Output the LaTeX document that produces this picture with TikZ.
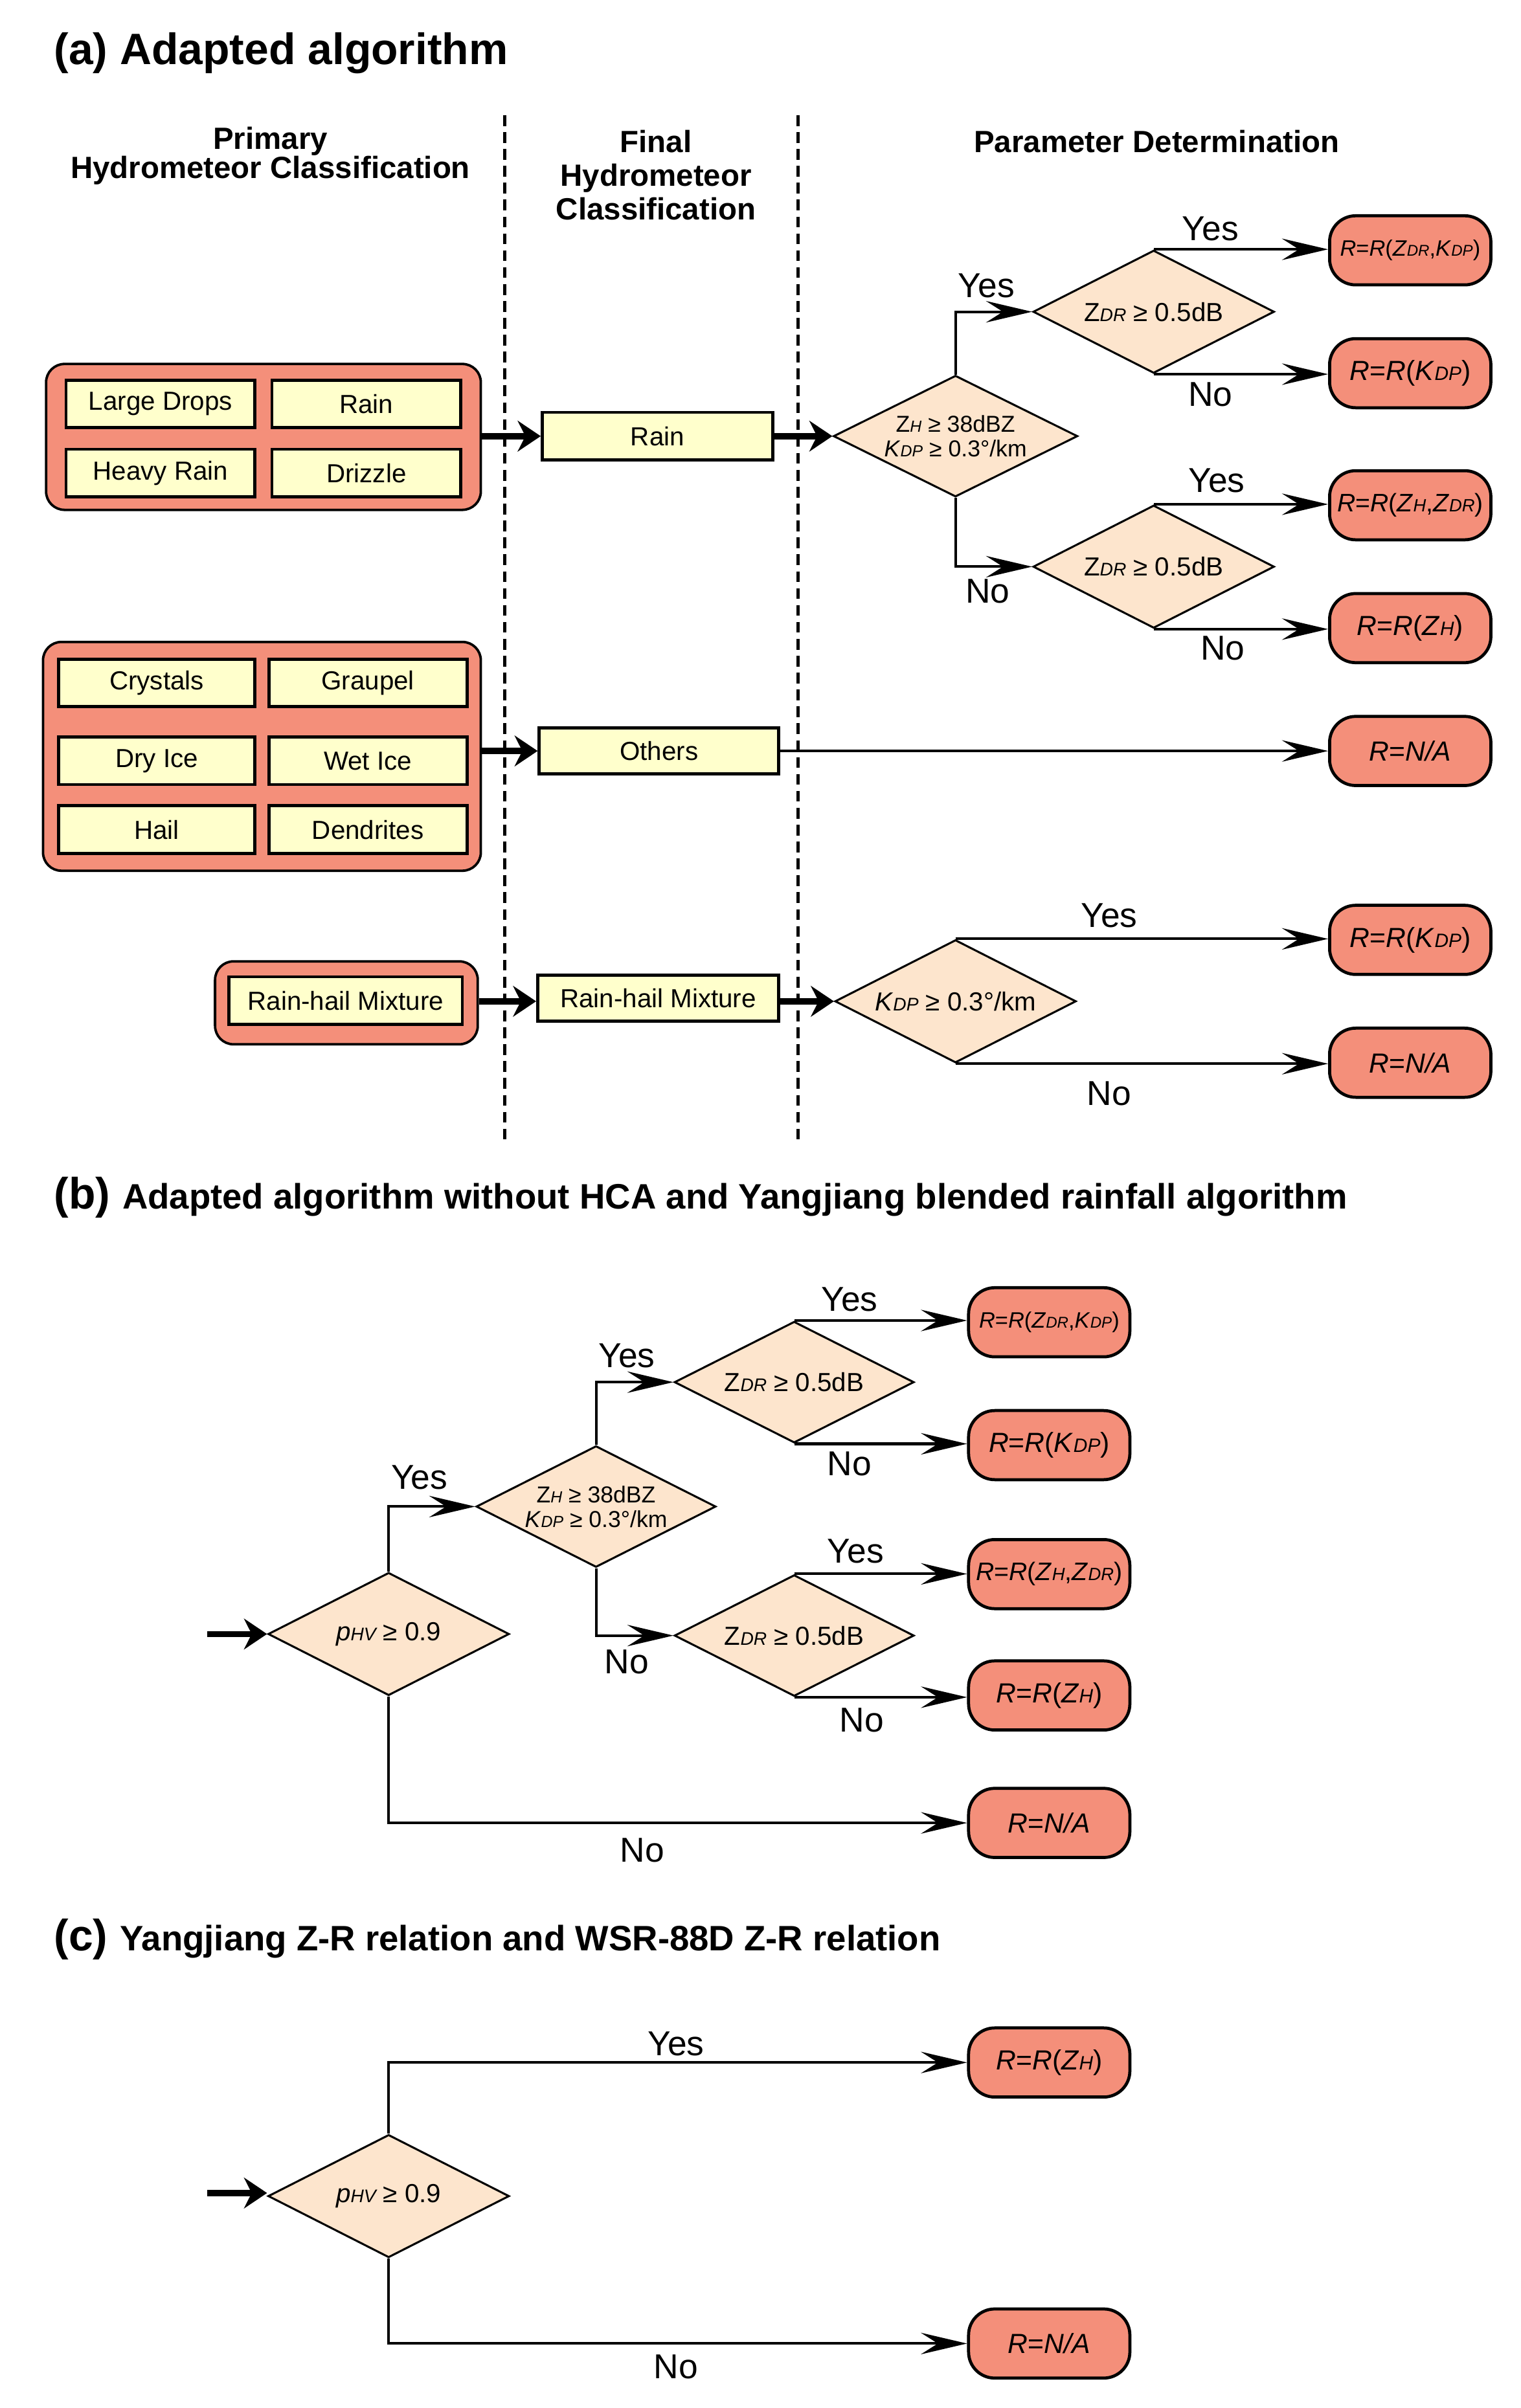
\documentclass[tikz,border=0pt]{standalone}
\usepackage{fontspec}
\setmainfont{Liberation Sans}
\usepackage{graphicx}
\usetikzlibrary{shapes.geometric,arrows.meta,calc}
\definecolor{salmon}{RGB}{244,143,122}
\definecolor{ylw}{RGB}{255,255,204}
\definecolor{peach}{RGB}{253,229,205}
\newcommand\fs[2]{\fontsize{#1}{#2}\selectfont}
\newcommand\lowsub[1]{\scalebox{0.7}{\itshape #1}}
\begin{document}
\begin{tikzpicture}[x=1pt,y=-1pt,
  grp/.style={draw, line width=1.6pt, fill=salmon, rounded corners=12pt, inner sep=0pt},
  cat/.style={draw, line width=2pt, fill=ylw, font=\fs{17}{20}, inner sep=0pt, minimum height=31pt},
  dia/.style={draw, line width=1.3pt, fill=peach, diamond, inner sep=0pt, minimum width=157pt, minimum height=80pt},
  dtxt/.style={align=center, inner sep=0pt, font=\fs{17}{19}},
  res/.style={draw, line width=2pt, fill=salmon, rounded corners=17pt, minimum width=105pt, minimum height=45pt, inner sep=0pt, font=\fs{18}{20}},
  lbl/.style={font=\fs{22.5}{25}, inner sep=0pt},
  hdr/.style={align=center, inner sep=0pt},
  arr/.style={line width=1.7pt, -{Stealth[length=30pt,width=14pt,inset=11pt]}},
  tarr/.style={line width=4pt, -{Stealth[length=15pt,width=20pt,inset=5pt]}},
  dl/.style={line width=2pt, dash pattern=on 7pt off 4pt},
  ttl/.style={anchor=base west, inner sep=0pt}
]
\useasboundingbox (0,0) rectangle (990,1568);

% ---------------- (a) ----------------
\node[ttl] (ta) at (35,42) {\fs{28.6}{32}\bfseries (a) Adapted algorithm};
\node[hdr, font=\fs{20}{19}\bfseries] (h1) at (176,101.5) {Primary\\Hydrometeor Classification};
\node[hdr, font=\fs{20}{22}\bfseries] (h2) at (427,114) {Final\\Hydrometeor\\Classification};
\node[hdr, font=\fs{20}{22}\bfseries] (h3) at (753,92) {Parameter Determination};

\coordinate (v1t) at (328.5,75); \coordinate (v1b) at (328.5,745);
\coordinate (v2t) at (519.5,75); \coordinate (v2b) at (519.5,745);
\draw[dl] (v1t) -- (v1b);
\draw[dl] (v2t) -- (v2b);

% group 1
\node[grp, minimum width=283pt, minimum height=95pt] (g1) at (171.5,284.5) {};
\node[cat, minimum width=123pt] (c11) at (104.5,263) {Large Drops};
\node[cat, minimum width=123pt] (c12) at (238.5,263) {Rain};
\node[cat, minimum width=123pt] (c13) at (104.5,308) {Heavy Rain};
\node[cat, minimum width=123pt] (c14) at (238.5,308) {Drizzle};
\node[cat, minimum width=150pt] (fRain) at (428,284) {Rain};

% group 2
\node[grp, minimum width=285pt, minimum height=149pt] (g2) at (170.5,492.5) {};
\node[cat, minimum width=128pt] (c21) at (102,444.7) {Crystals};
\node[cat, minimum width=129pt] (c22) at (239.5,444.7) {Graupel};
\node[cat, minimum width=128pt] (c23) at (102,495.4) {Dry Ice};
\node[cat, minimum width=129pt] (c24) at (239.5,495.4) {Wet Ice};
\node[cat, minimum width=128pt] (c25) at (102,540.2) {Hail};
\node[cat, minimum width=129pt] (c26) at (239.5,540.2) {Dendrites};
\node[cat, minimum width=156pt, minimum height=30pt] (fOth) at (429,489) {Others};

% group 3
\node[grp, minimum width=171pt, minimum height=54pt] (g3) at (225.5,653) {};
\node[cat, minimum width=152pt] (c31) at (225,651.5) {Rain-hail Mixture};
\node[cat, minimum width=157pt, minimum height=30pt] (fRH) at (428.5,650) {Rain-hail Mixture};

% decisions (a)
\node[dia, minimum width=159pt, minimum height=79pt] (d1) at (622,284) {};
\node[dtxt, font=\fs{15}{16}] (d1t) at (d1) {Z\lowsub{H} ≥ 38dBZ\\\textit{K}\lowsub{DP} ≥ 0.3°/km};
\node[dia] (d2) at (751,203) {};
\node[dtxt] (d2t) at (d2) {Z\lowsub{DR} ≥ 0.5dB};
\node[dia] (d3) at (751,369) {};
\node[dtxt] (d3t) at (d3) {Z\lowsub{DR} ≥ 0.5dB};
\node[dia] (d4) at (622,652) {};
\node[dtxt] (d4t) at (d4) {\textit{K}\lowsub{DP} ≥ 0.3°/km};

% results (a)
\node[res, font=\fs{14.5}{16}] (r1) at (918,163) {\textit{R}=\textit{R}(\textit{Z}\lowsub{DR},\textit{K}\lowsub{DP})};
\node[res] (r2) at (918,243) {\textit{R}=\textit{R}(\textit{K}\lowsub{DP})};
\node[res, font=\fs{16.5}{18}] (r3) at (918,329) {\textit{R}=\textit{R}(\textit{Z}\lowsub{H},\textit{Z}\lowsub{DR})};
\node[res] (r4) at (918,409) {\textit{R}=\textit{R}(\textit{Z}\lowsub{H})};
\node[res] (r5) at (918,489) {\textit{R}=\textit{N/A}};
\node[res] (r6) at (918,612) {\textit{R}=\textit{R}(\textit{K}\lowsub{DP})};
\node[res] (r7) at (918,692) {\textit{R}=\textit{N/A}};

% connectors (a)
\draw[tarr] (g1.east |- fRain.west) -- (fRain.west);
\draw[tarr] (fRain.east) -- (d1.west);
\draw[arr] (d1.north) |- (d2.west);
\draw[arr] (d1.south) |- (d3.west);
\draw[arr] (d2.north) -- (d2.north -| r1.west);
\draw[arr] (d2.south) -- (d2.south -| r2.west);
\draw[arr] (d3.north) -- (d3.north -| r3.west);
\draw[arr] (d3.south) -- (d3.south -| r4.west);
\draw[tarr] (g2.east |- fOth.west) -- (fOth.west);
\draw[arr] (fOth.east) -- (fOth.east -| r5.west);
\draw[tarr] (g3.east |- d4.west) -- (g3.east |- d4.west -| fRH.west);
\draw[tarr] (fRH.east |- d4.west) -- (d4.west);
\draw[arr] (d4.north) -- (d4.north -| r6.west);
\draw[arr] (d4.south) -- (d4.south -| r7.west);

\node[lbl] (la1) at (642,186) {Yes};
\node[lbl] (la2) at (643,385) {No};
\node[lbl] (la3) at (788,149) {Yes};
\node[lbl] (la4) at (788,257) {No};
\node[lbl] (la5) at (792,313) {Yes};
\node[lbl] (la6) at (796,422) {No};
\node[lbl] (la7) at (722,596) {Yes};
\node[lbl] (la8) at (722,712) {No};

% ---------------- (b) ----------------
\node[ttl] (tb) at (35,787) {\fs{28.6}{32}\bfseries (b) \fs{23}{26}Adapted algorithm without HCA and Yangjiang blended rainfall algorithm};

\node[dia] (pb) at (253,1064) {};
\node[dtxt, font=\fs{17}{19}] (pbt) at (pb) {\textit{p}\lowsub{HV} ≥ 0.9};
\node[dia, minimum width=156pt, minimum height=79pt] (zb) at (388,981) {};
\node[dtxt, font=\fs{15}{16}] (zbt) at (zb) {Z\lowsub{H} ≥ 38dBZ\\\textit{K}\lowsub{DP} ≥ 0.3°/km};
\node[dia, minimum width=156pt, minimum height=79pt] (db1) at (517,900) {};
\node[dtxt] (db1t) at (db1) {Z\lowsub{DR} ≥ 0.5dB};
\node[dia, minimum width=156pt, minimum height=79pt] (db2) at (517,1065) {};
\node[dtxt] (db2t) at (db2) {Z\lowsub{DR} ≥ 0.5dB};

\node[res, font=\fs{14.5}{16}] (rb1) at (683,861) {\textit{R}=\textit{R}(\textit{Z}\lowsub{DR},\textit{K}\lowsub{DP})};
\node[res] (rb2) at (683,941) {\textit{R}=\textit{R}(\textit{K}\lowsub{DP})};
\node[res, font=\fs{16.5}{18}] (rb3) at (683,1025) {\textit{R}=\textit{R}(\textit{Z}\lowsub{H},\textit{Z}\lowsub{DR})};
\node[res] (rb4) at (683,1104) {\textit{R}=\textit{R}(\textit{Z}\lowsub{H})};
\node[res] (rb5) at (683,1187) {\textit{R}=\textit{N/A}};

\coordinate (inb) at (135,1064);
\draw[tarr] (inb) -- (pb.west);
\draw[arr] (pb.north) |- (zb.west);
\draw[arr] (zb.north) |- (db1.west);
\draw[arr] (zb.south) |- (db2.west);
\draw[arr] (db1.north) -- (db1.north -| rb1.west);
\draw[arr] (db1.south) -- (db1.south -| rb2.west);
\draw[arr] (db2.north) -- (db2.north -| rb3.west);
\draw[arr] (db2.south) -- (db2.south -| rb4.west);
\draw[arr] (pb.south) |- (rb5.west);

\node[lbl] (lb1) at (273,962) {Yes};
\node[lbl] (lb2) at (408,883) {Yes};
\node[lbl] (lb3) at (408,1082) {No};
\node[lbl] (lb4) at (553,846) {Yes};
\node[lbl] (lb5) at (553,953) {No};
\node[lbl] (lb6) at (557,1010) {Yes};
\node[lbl] (lb7) at (561,1120) {No};
\node[lbl] (lb8) at (418,1205) {No};

% ---------------- (c) ----------------
\node[ttl] (tc) at (35,1270) {\fs{28.6}{32}\bfseries (c) \fs{23}{26}Yangjiang Z-R relation and WSR-88D Z-R relation};

\node[dia] (pc) at (253,1430) {};
\node[dtxt, font=\fs{17}{19}] (pct) at (pc) {\textit{p}\lowsub{HV} ≥ 0.9};
\node[res] (rc1) at (683,1343) {\textit{R}=\textit{R}(\textit{Z}\lowsub{H})};
\node[res] (rc2) at (683,1526) {\textit{R}=\textit{N/A}};
\coordinate (inc) at (135,1428);
\draw[tarr] (inc) -- (inc -| pc.west);
\draw[arr] (pc.north) |- (rc1.west);
\draw[arr] (pc.south) |- (rc2.west);
\node[lbl] (lc1) at (440,1331) {Yes};
\node[lbl] (lc2) at (440,1541) {No};
\end{tikzpicture}
\end{document}
